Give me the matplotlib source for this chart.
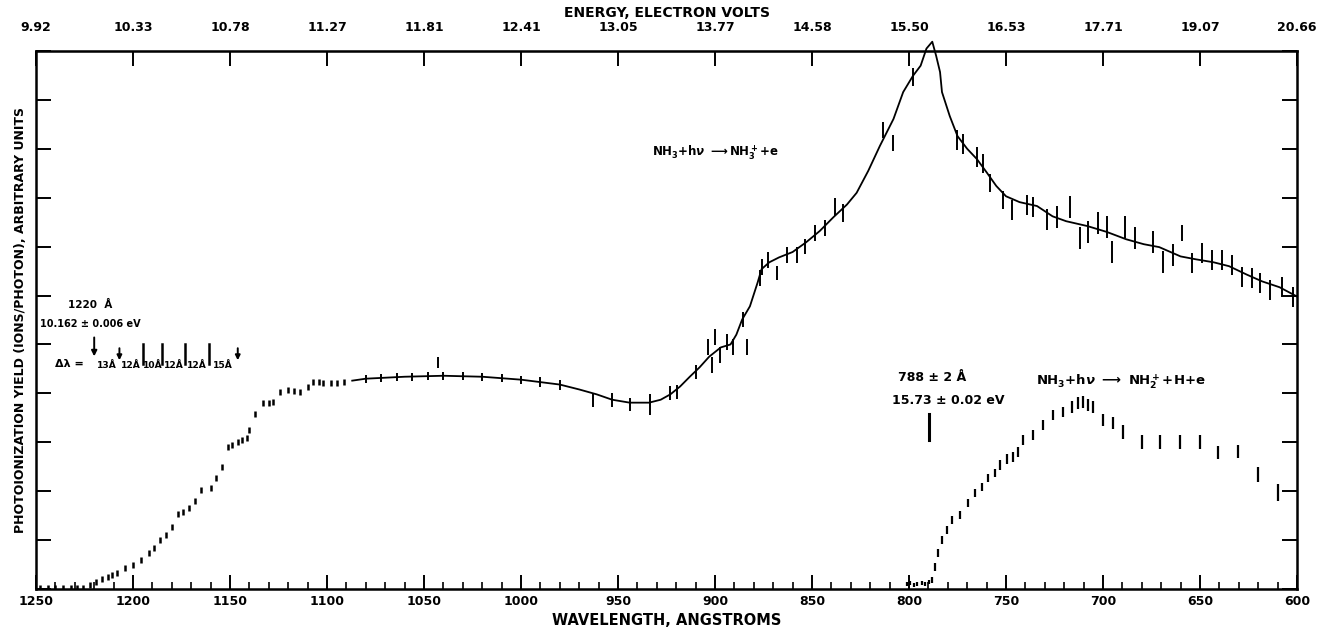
import matplotlib
matplotlib.use("Agg")
import matplotlib.pyplot as plt
from matplotlib.ticker import FixedLocator, MultipleLocator

plt.rcParams['font.family'] = ['DejaVu Sans']
plt.rcParams['font.weight'] = 'bold'

# ---------------- data ----------------
wl_ticks = [1250, 1200, 1150, 1100, 1050, 1000, 950, 900, 850, 800, 750, 700, 650, 600]
energy_labels = ["9.92", "10.33", "10.78", "11.27", "11.81", "12.41", "13.05", "13.77",
                 "14.58", "15.50", "16.53", "17.71", "19.07", "20.66"]

# NH3+ smooth curve (drawn line)
curve_wl = [1087, 1080, 1060, 1040, 1020, 1000, 980, 970, 961, 953, 944, 934, 928, 923, 918,
            913, 908, 903, 897, 892, 889, 886, 882, 878, 876, 872, 867, 860, 853, 846, 839,
            832, 827, 821, 815, 808, 803, 798, 794, 791, 788, 786, 784, 783, 779, 775, 770,
            765, 760, 755, 750, 743, 734, 726, 719, 708, 698, 688, 679, 671, 660, 652, 643,
            635, 626, 618, 609, 600]
curve_y = [4.26, 4.30, 4.34, 4.36, 4.34, 4.28, 4.18, 4.08, 3.98, 3.87, 3.81, 3.81, 3.87, 3.98,
           4.14, 4.34, 4.53, 4.75, 4.94, 5.00, 5.20, 5.51, 5.78, 6.27, 6.54, 6.68, 6.78, 6.89,
           7.09, 7.32, 7.60, 7.86, 8.10, 8.55, 9.06, 9.61, 10.16, 10.49, 10.70, 11.05, 11.19,
           10.90, 10.57, 10.16, 9.67, 9.26, 9.00, 8.79, 8.52, 8.24, 8.03, 7.91, 7.83, 7.62,
           7.52, 7.42, 7.30, 7.15, 7.05, 6.99, 6.80, 6.74, 6.68, 6.60, 6.43, 6.29, 6.17, 5.98]

# NH3+ low-resolution points (left part, small dashes)
nh3_dots_wl = [1248, 1244, 1240, 1236, 1232, 1229, 1226, 1222, 1219, 1216, 1213, 1211, 1208,
               1204, 1200, 1196, 1192, 1189, 1186, 1183, 1180, 1177, 1174, 1171, 1168, 1165,
               1160, 1157, 1154, 1151, 1149, 1146, 1144, 1141, 1140, 1137, 1133, 1130, 1128,
               1124, 1120, 1117, 1114, 1110, 1107, 1104, 1102, 1098, 1095, 1091]
nh3_dots_y = [0.02, 0.02, 0.02, 0.02, 0.02, 0.02, 0.03, 0.08, 0.14, 0.20, 0.24, 0.29, 0.33,
              0.43, 0.50, 0.59, 0.74, 0.84, 1.00, 1.10, 1.27, 1.54, 1.57, 1.66, 1.80, 2.03,
              2.07, 2.27, 2.50, 2.91, 2.95, 3.01, 3.05, 3.09, 3.26, 3.57, 3.81, 3.81, 3.83,
              4.02, 4.06, 4.04, 4.02, 4.14, 4.24, 4.24, 4.22, 4.22, 4.22, 4.24]

# NH3+ high-resolution points with error bars
nh3_pts_wl = [1080, 1072, 1064, 1056, 1048, 1043, 1040, 1030, 1020, 1010, 1000, 990, 980,
              963, 953, 944, 933.5, 923, 919.6, 910, 903.6, 901.5, 900, 897.4, 893.8, 890.7,
              885.6, 883.5, 876.8, 875.8, 872.7, 868, 862.9, 857.7, 853.6, 848.5, 843.3,
              838.1, 834, 813.4, 808.2, 797.9, 775.3, 772, 765, 762, 758.2, 751.5, 746.9,
              739.2, 736.1, 728.9, 723.7, 717, 711.9, 707.7, 702.6, 698, 695.4, 688.7,
              683.5, 674.2, 669.1, 663.9, 659.3, 654.1, 648.9, 643.8, 638.7, 633.5, 628.4,
              623.2, 619.1, 613.9, 607.7, 602.1]
nh3_pts_y = [4.30, 4.31, 4.33, 4.34, 4.35, 4.63, 4.36, 4.36, 4.34, 4.31, 4.28, 4.23, 4.17,
             3.87, 3.87, 3.77, 3.77, 4.01, 4.03, 4.44, 4.95, 4.58, 5.15, 4.79, 5.05, 4.95,
             5.51, 4.95, 6.36, 6.58, 6.73, 6.46, 6.83, 6.83, 7.00, 7.28, 7.38, 7.81, 7.69,
             9.39, 9.12, 10.47, 9.18, 9.10, 8.83, 8.70, 8.30, 7.95, 7.75, 7.85, 7.81, 7.55,
             7.61, 7.81, 7.18, 7.30, 7.48, 7.40, 6.89, 7.40, 7.18, 7.10, 6.69, 6.83, 7.28,
             6.67, 6.87, 6.73, 6.73, 6.63, 6.38, 6.36, 6.26, 6.11, 6.18, 5.97]
nh3_pts_err = [0.08, 0.08, 0.08, 0.08, 0.08, 0.12, 0.08, 0.08, 0.08, 0.08, 0.08, 0.10, 0.10,
               0.14, 0.14, 0.14, 0.22, 0.14, 0.14, 0.14, 0.16, 0.16, 0.16, 0.16, 0.16, 0.16,
               0.16, 0.16, 0.16, 0.16, 0.16, 0.14, 0.16, 0.16, 0.16, 0.16, 0.16, 0.18, 0.18,
               0.16, 0.16, 0.18, 0.20, 0.20, 0.20, 0.20, 0.18, 0.18, 0.20, 0.20, 0.20, 0.22,
               0.22, 0.22, 0.22, 0.22, 0.22, 0.22, 0.22, 0.22, 0.22, 0.22, 0.22, 0.22, 0.16,
               0.20, 0.20, 0.20, 0.20, 0.20, 0.20, 0.20, 0.20, 0.20, 0.20, 0.20]

# NH2+ fragment ion points
nh2_wl = [801, 799.5, 797.5, 795.9, 793.5, 791.8, 789.8, 788.1, 786.6, 785.0, 783.0, 780.4,
          777.8, 773.7, 769.6, 766.0, 762.4, 759.3, 755.7, 753.1, 749.5, 746.4, 743.8, 741.2,
          736.1, 730.9, 725.8, 720.5, 716.0, 712.9, 710.3, 707.7, 705.2, 700.0, 694.8, 689.7,
          679.9, 670.6, 660.3, 650.0, 640.7, 630.4, 620.1, 609.8]
nh2_y = [0.10, 0.12, 0.08, 0.10, 0.12, 0.10, 0.14, 0.18, 0.45, 0.74, 1.00, 1.21, 1.41, 1.51,
         1.76, 1.96, 2.09, 2.27, 2.37, 2.54, 2.66, 2.70, 2.80, 3.05, 3.15, 3.36, 3.56, 3.62,
         3.72, 3.80, 3.82, 3.76, 3.72, 3.46, 3.40, 3.21, 3.01, 3.01, 3.01, 3.01, 2.79, 2.81,
         2.34, 1.97]
nh2_err = [0.04, 0.04, 0.04, 0.04, 0.04, 0.04, 0.04, 0.06, 0.08, 0.08, 0.08, 0.08, 0.08,
           0.08, 0.08, 0.08, 0.08, 0.08, 0.08, 0.10, 0.10, 0.10, 0.10, 0.10, 0.10, 0.10,
           0.10, 0.10, 0.12, 0.12, 0.12, 0.12, 0.12, 0.12, 0.12, 0.14, 0.14, 0.14, 0.14,
           0.14, 0.14, 0.14, 0.16, 0.18]

# vibrational progression marks (Angstrom) and spacing labels
prog_wl = [1220, 1207, 1195, 1185, 1173, 1161, 1146]
prog_labels = ["13Å", "12Å", "10Å", "12Å", "12Å", "15Å"]

# ---------------- figure ----------------
fig = plt.figure(figsize=(13.17, 6.31), dpi=100)
ax = fig.add_axes([36 / 1317, 42 / 631, 1261 / 1317, 538 / 631])
ax.set_xlim(1250, 600)
ax.set_ylim(0, 11)

k = 'black'
ax.plot(curve_wl, curve_y, color=k, lw=1.3, clip_on=False, zorder=3)
ax.plot(nh3_dots_wl, nh3_dots_y, ls='none', marker='|', ms=5, mew=1.8, color=k)
ax.errorbar(nh3_pts_wl, nh3_pts_y, yerr=nh3_pts_err, fmt='none', ecolor=k, elinewidth=1.4,
            capsize=0)
ax.errorbar(nh2_wl, nh2_y, yerr=nh2_err, fmt='none', ecolor=k, elinewidth=1.6, capsize=0)

# axes styling
for s in ax.spines.values():
    s.set_linewidth(1.8)
ax.xaxis.set_major_locator(FixedLocator(wl_ticks))
ax.xaxis.set_minor_locator(MultipleLocator(10))
ax.set_xticklabels([str(w) for w in wl_ticks], fontsize=9, fontweight='bold')
ax.yaxis.set_major_locator(MultipleLocator(1))
ax.set_yticklabels([])
ax.tick_params(axis='x', which='major', direction='in', length=10, width=1.4, pad=4)
ax.tick_params(axis='x', which='minor', direction='in', length=5, width=1.2)
ax.tick_params(axis='y', which='major', direction='in', length=11, width=1.4,
               left=True, right=True)
ax.set_xlabel("WAVELENGTH, ANGSTROMS", fontsize=10.5, fontweight='bold', labelpad=4)
ax.set_ylabel("PHOTOIONIZATION YIELD (IONS/PHOTON), ARBITRARY UNITS", fontsize=9,
              fontweight='bold', labelpad=3)

top = ax.secondary_xaxis('top')
top.xaxis.set_major_locator(FixedLocator(wl_ticks))
top.set_xticklabels(energy_labels, fontsize=9, fontweight='bold')
top.tick_params(axis='x', direction='in', length=11, width=1.4, pad=12)
top.set_xlabel("ENERGY, ELECTRON VOLTS", fontsize=10, fontweight='bold', labelpad=3)

# annotations
ax.text(900, 8.93, r"NH$_3$+h$\nu$ $\longrightarrow$NH$_3^+$+e", fontsize=8.5,
        fontweight='bold', ha='center', va='center')
ax.text(691, 4.24, r"NH$_3$+h$\nu$ $\longrightarrow$ NH$_2^+$+H+e", fontsize=9.5,
        fontweight='bold', ha='center', va='center')
ax.text(788, 4.33, "788 ± 2 Å", fontsize=9, fontweight='bold', ha='center', va='center')
ax.text(780, 3.85, "15.73 ± 0.02 eV", fontsize=9, fontweight='bold', ha='center',
        va='center')
ax.plot([789.5, 789.5], [3.05, 3.57], color=k, lw=2.2)

ax.text(1222, 5.8, "1220  Å", fontsize=7.5, fontweight='bold', ha='center', va='center')
ax.text(1222, 5.42, "10.162 ± 0.006 eV", fontsize=7, fontweight='bold', ha='center',
        va='center')
ax.annotate("", xy=(prog_wl[0], 4.7), xytext=(prog_wl[0], 5.2),
            arrowprops=dict(arrowstyle='-|>', color=k, lw=1.4, mutation_scale=8))
ax.text(1233, 4.6, "Δλ =", fontsize=8, fontweight='bold', ha='center', va='center')
for i, w in enumerate(prog_wl):
    if i in (1, len(prog_wl) - 1):
        ax.annotate("", xy=(w, 4.62), xytext=(w, 4.98),
                    arrowprops=dict(arrowstyle='-|>', color=k, lw=1.4, mutation_scale=7))
    elif i > 0:
        ax.plot([w, w], [4.6, 5.0], color=k, lw=1.8)
for i, lab in enumerate(prog_labels):
    ax.text((prog_wl[i] + prog_wl[i + 1]) / 2, 4.56, lab, fontsize=6.6, fontweight='bold',
            ha='center', va='center')

fig.savefig("out.png", dpi=100)
